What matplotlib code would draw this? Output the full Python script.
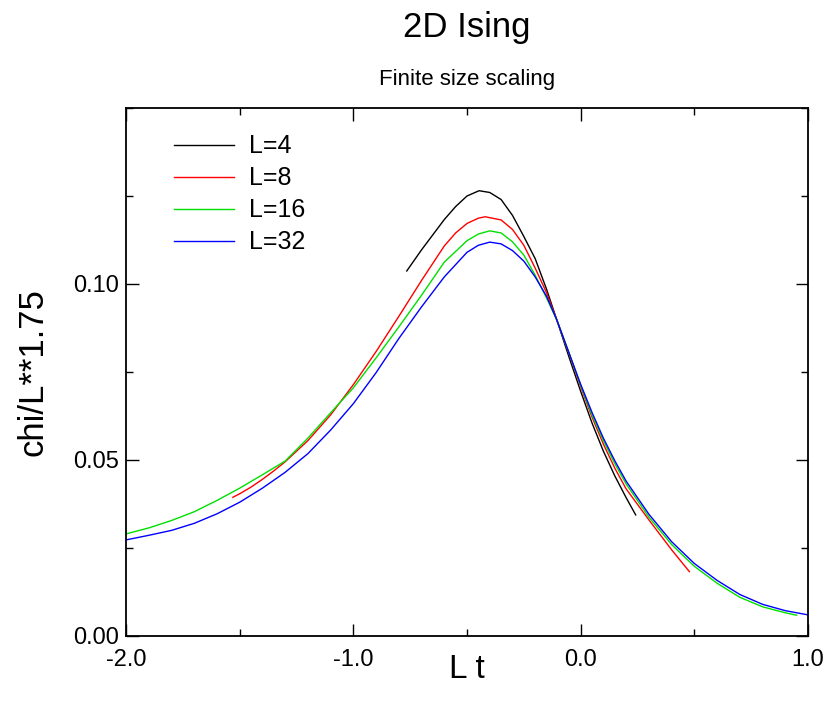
import matplotlib
matplotlib.use("Agg")
import matplotlib.pyplot as plt
from matplotlib.ticker import MultipleLocator, FormatStrFormatter

plt.rcParams['font.family'] = ['Liberation Sans', 'DejaVu Sans']

# Scaled susceptibility chi/L**1.75 versus scaled temperature L t
x_L4 = [-0.765, -0.70, -0.65, -0.60, -0.55, -0.50, -0.447, -0.40, -0.35, -0.30,
        -0.25, -0.20, -0.15, -0.105, -0.05, 0.0, 0.05, 0.10, 0.15, 0.20, 0.242]
y_L4 = [0.1037, 0.1097, 0.1140, 0.1183, 0.1220, 0.1250, 0.1265, 0.1260, 0.1240, 0.1195,
        0.1135, 0.1072, 0.0985, 0.0898, 0.0790, 0.0695, 0.0605, 0.0525, 0.0455, 0.0393, 0.0344]

x_L8 = [-1.53, -1.50, -1.45, -1.40, -1.35, -1.30, -1.20, -1.10, -1.00, -0.90,
        -0.80, -0.70, -0.60, -0.55, -0.50, -0.45, -0.42, -0.35, -0.30, -0.25,
        -0.20, -0.15, -0.105, -0.05, 0.0, 0.05, 0.10, 0.15, 0.20, 0.30, 0.40, 0.478]
y_L8 = [0.0394, 0.0404, 0.0423, 0.0445, 0.0469, 0.0495, 0.0555, 0.0628, 0.0714, 0.0808,
        0.0908, 0.1010, 0.1108, 0.1145, 0.1172, 0.1187, 0.1191, 0.1182, 0.1155, 0.1110,
        0.1045, 0.0975, 0.0898, 0.0800, 0.0708, 0.0622, 0.0545, 0.0477, 0.0418, 0.0330, 0.0245, 0.0183]

x_L16 = [-2.0, -1.9, -1.8, -1.7, -1.6, -1.5, -1.4, -1.3, -1.2, -1.1,
         -1.0, -0.9, -0.8, -0.7, -0.6, -0.5, -0.45, -0.40, -0.35, -0.30,
         -0.25, -0.20, -0.15, -0.105, -0.05, 0.0, 0.05, 0.10, 0.15, 0.20,
         0.30, 0.40, 0.50, 0.60, 0.70, 0.80, 0.90, 0.95]
y_L16 = [0.0290, 0.0307, 0.0328, 0.0353, 0.0385, 0.0420, 0.0458, 0.0497, 0.0562, 0.0634,
         0.0705, 0.0790, 0.0878, 0.0968, 0.1062, 0.1123, 0.1142, 0.1151, 0.1145, 0.1120,
         0.1082, 0.1025, 0.0960, 0.0898, 0.0802, 0.0712, 0.0628, 0.0555, 0.0490, 0.0432,
         0.0338, 0.0260, 0.0198, 0.0150, 0.0110, 0.0083, 0.0066, 0.0059]

x_L32 = [-2.0, -1.9, -1.8, -1.7, -1.6, -1.5, -1.4, -1.3, -1.2, -1.1,
         -1.0, -0.9, -0.8, -0.7, -0.6, -0.5, -0.45, -0.40, -0.35, -0.30,
         -0.25, -0.20, -0.15, -0.105, -0.05, 0.0, 0.05, 0.10, 0.15, 0.20,
         0.30, 0.40, 0.50, 0.60, 0.70, 0.80, 0.90, 1.0]
y_L32 = [0.0273, 0.0286, 0.0300, 0.0320, 0.0347, 0.0380, 0.0420, 0.0465, 0.0518, 0.0585,
         0.0660, 0.0748, 0.0845, 0.0935, 0.1020, 0.1090, 0.1110, 0.1119, 0.1114, 0.1095,
         0.1065, 0.1020, 0.0965, 0.0898, 0.0802, 0.0715, 0.0635, 0.0562, 0.0498, 0.0440,
         0.0346, 0.0268, 0.0206, 0.0158, 0.0118, 0.0090, 0.0072, 0.0060]

series = [
    ("L=4", x_L4, y_L4, "#000000"),
    ("L=8", x_L8, y_L8, "#ff0000"),
    ("L=16", x_L16, y_L16, "#00e000"),
    ("L=32", x_L32, y_L32, "#0000ff"),
]

fig = plt.figure(figsize=(8.28, 7.07), dpi=100)
ax = fig.add_axes([126 / 828, 71 / 707, 682 / 828, 528 / 707])

for label, xs, ys, color in series:
    ax.plot(xs, ys, color=color, lw=1.0, label=label)

ax.set_xlim(-2.0, 1.0)
ax.set_ylim(0.0, 0.15)
ax.xaxis.set_major_locator(MultipleLocator(1.0))
ax.xaxis.set_minor_locator(MultipleLocator(0.5))
ax.yaxis.set_minor_locator(MultipleLocator(0.025))
ax.xaxis.set_major_formatter(FormatStrFormatter('%.1f'))
ax.yaxis.set_major_formatter(FormatStrFormatter('%.2f'))
ax.set_yticks([0.0, 0.05, 0.10])

ax.tick_params(which='both', direction='in', top=True, right=True,
               labelsize=17, width=1.0)
ax.tick_params(axis='x', which='major', pad=9)
ax.tick_params(axis='y', which='major', pad=5)
ax.tick_params(which='major', length=9)
ax.tick_params(which='minor', length=5)
for sp in ax.spines.values():
    sp.set_linewidth(1.3)

ax.set_xlabel("L t", fontsize=24)
ax.xaxis.set_label_coords(0.5, -0.035)
ax.set_ylabel("chi/L**1.75", fontsize=25)
ax.yaxis.set_label_coords(-0.112, 0.5)

fig.text(467 / 828, 1 - 27 / 707, "2D Ising", ha='center', va='center', fontsize=25)
fig.text(467 / 828, 1 - 80 / 707, "Finite size scaling", ha='center', va='center', fontsize=16)

ax.legend(loc='upper left', bbox_to_anchor=(0.055, 0.969), frameon=False,
          fontsize=18, handlelength=2.4, handletextpad=0.6, labelspacing=0.32,
          borderaxespad=0.0)

fig.savefig("out.png", dpi=100)
